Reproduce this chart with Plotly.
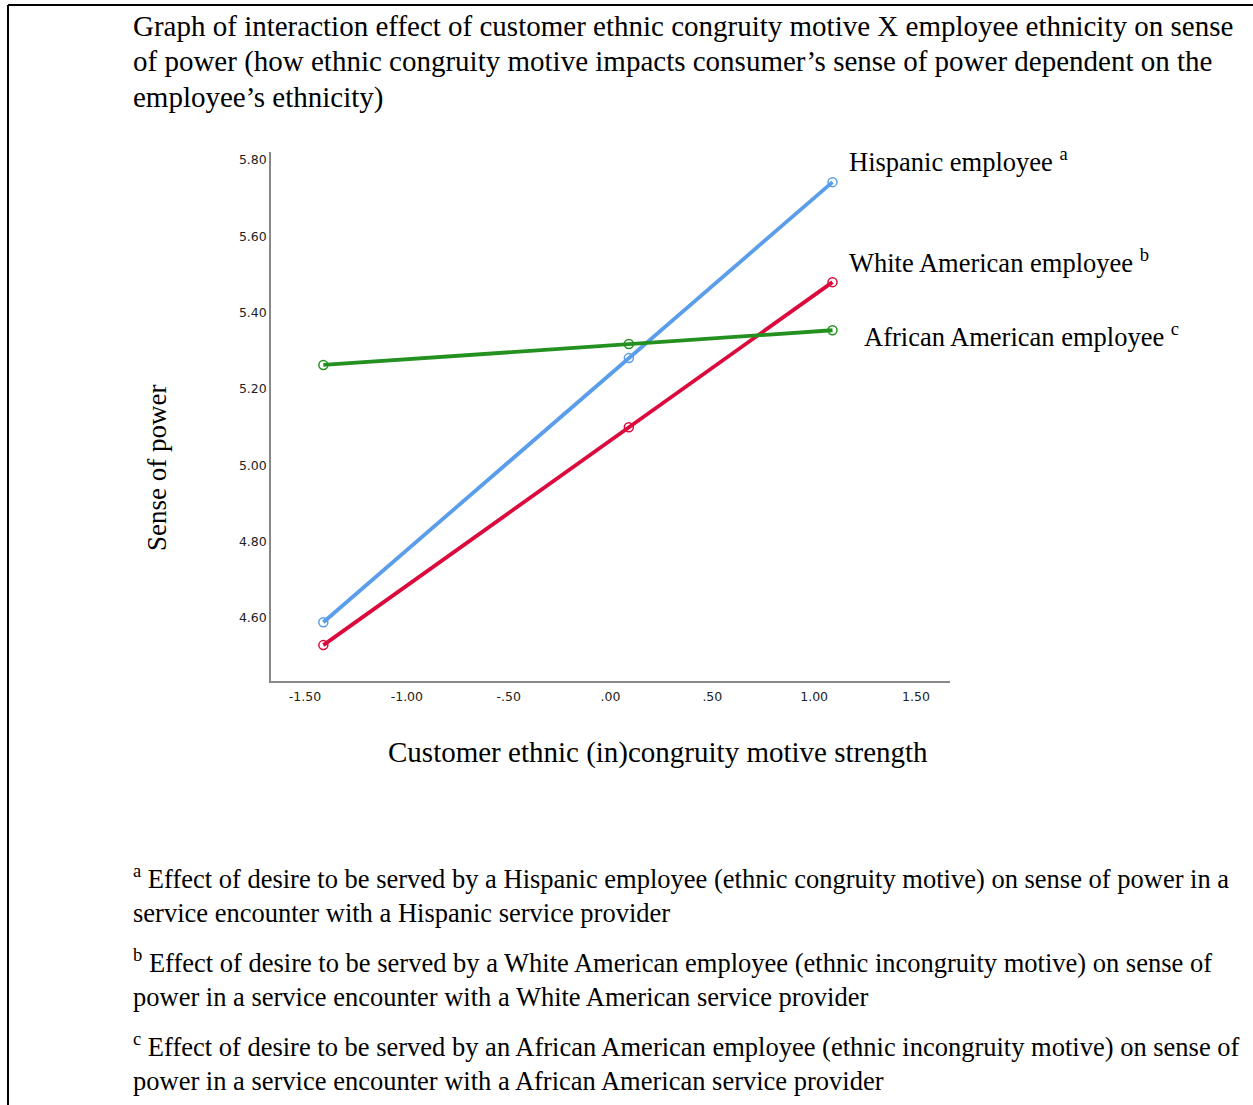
import plotly.graph_objects as go

# Simple-slope points for the interaction plot
x_vals = [-1.41, 0.09, 1.09]
hispanic = [4.589, 5.281, 5.742]
white_american = [4.529, 5.100, 5.480]
african_american = [5.263, 5.318, 5.354]

series_names = ["Hispanic employee", "White American employee", "African American employee"]
series_sup = ["a", "b", "c"]
series_values = [hispanic, white_american, african_american]
series_colors = ["#5A9DEA", "#DC0A3C", "#23901F"]

x_tick_vals = [-1.5, -1.0, -0.5, 0.0, 0.5, 1.0, 1.5]
x_tick_text = ["-1.50", "-1.00", "-.50", ".00", ".50", "1.00", "1.50"]
y_tick_vals = [4.6, 4.8, 5.0, 5.2, 5.4, 5.6, 5.8]
y_tick_text = ["4.60", "4.80", "5.00", "5.20", "5.40", "5.60", "5.80"]

title_lines = [
    "Graph of interaction effect of customer ethnic congruity motive X employee ethnicity on sense",
    "of power (how ethnic congruity motive impacts consumer\u2019s sense of power dependent on the",
    "employee\u2019s ethnicity)",
]
x_title = "Customer ethnic (in)congruity motive strength"
y_title = "Sense of power"
footnote_lines = [
    "<sup>a</sup> Effect of desire to be served by a Hispanic employee (ethnic congruity motive) on sense of power in a",
    "service encounter with a Hispanic service provider",
    "<sup>b</sup> Effect of desire to be served by a White American employee (ethnic incongruity motive) on sense of",
    "power in a service encounter with a White American service provider",
    "<sup>c</sup> Effect of desire to be served by an African American employee (ethnic incongruity motive) on sense of",
    "power in a service encounter with a African American service provider",
]

W, H = 1253, 1105
L, R, T, B = 271, 950, 152, 681
SERIF = "Liberation Serif, Times New Roman, serif"


def px(x):
    return (x - L) / (R - L)


def py(y):
    return (B - y) / (B - T)


fig = go.Figure()
for name, vals, col in zip(series_names, series_values, series_colors):
    fig.add_trace(go.Scatter(
        x=x_vals, y=vals, mode="lines+markers", name=name,
        line=dict(color=col, width=3.8),
        marker=dict(symbol="circle-open", size=9, color=col, line=dict(width=1.5)),
        showlegend=False,
    ))

annotations = []
# Series labels near line ends
label_pos = [(847, 160), (847, 261), (862, 335)]
for name, sup, (lx, ly) in zip(series_names, series_sup, label_pos):
    annotations.append(dict(
        xref="paper", yref="paper", x=px(lx), y=py(ly), xanchor="left", yanchor="middle",
        text=f"{name} <sup>{sup}</sup>", showarrow=False,
        font=dict(family=SERIF, size=26.5, color="black"),
    ))

# Title block, one annotation per line
for line, ly in zip(title_lines, [26, 62, 98]):
    annotations.append(dict(
        xref="paper", yref="paper", x=px(131), y=py(ly), xanchor="left", yanchor="middle",
        text=line, showarrow=False, align="left",
        font=dict(family=SERIF, size=29, color="black"),
    ))

# Footnotes, one annotation per line
for line, ly in zip(footnote_lines, [877, 913, 961, 997, 1045, 1081]):
    annotations.append(dict(
        xref="paper", yref="paper", x=px(131), y=py(ly), xanchor="left", yanchor="middle",
        text=line, showarrow=False, align="left",
        font=dict(family=SERIF, size=26.5, color="black"),
    ))

# Axis titles
annotations.append(dict(
    xref="paper", yref="paper", x=px(658), y=py(752), xanchor="center", yanchor="middle",
    text=x_title, showarrow=False, font=dict(family=SERIF, size=29, color="black"),
))
annotations.append(dict(
    xref="paper", yref="paper", x=px(157), y=py(468), xanchor="center", yanchor="middle",
    text=y_title, showarrow=False, textangle=-90, font=dict(family=SERIF, size=27, color="black"),
))

# Page frame lines (top and left)
shapes = [
    dict(type="line", xref="paper", yref="paper", x0=px(8), x1=px(1253), y0=py(5), y1=py(5),
         line=dict(color="black", width=2)),
    dict(type="line", xref="paper", yref="paper", x0=px(8), x1=px(8), y0=py(5), y1=py(1105),
         line=dict(color="black", width=2)),
]

fig.update_layout(
    width=W, height=H,
    margin=dict(l=L, r=W - R, t=T, b=H - B),
    paper_bgcolor="white", plot_bgcolor="white",
    annotations=annotations, shapes=shapes,
    xaxis=dict(range=[-1.667, 1.667], tickvals=x_tick_vals, ticktext=x_tick_text,
               showgrid=False, zeroline=False, showline=True, linecolor="#888888", linewidth=1.5,
               ticks="outside", ticklen=3, tickcolor="rgba(0,0,0,0)",
               tickfont=dict(family="DejaVu Sans", size=12.5, color="#222222")),
    yaxis=dict(range=[4.435, 5.821], tickvals=y_tick_vals, ticktext=y_tick_text,
               showgrid=False, zeroline=False, showline=True, linecolor="#888888", linewidth=1.5,
               ticks="", tickfont=dict(family="DejaVu Sans", size=12.5, color="#222222")),
)

fig.write_html("out.html")
